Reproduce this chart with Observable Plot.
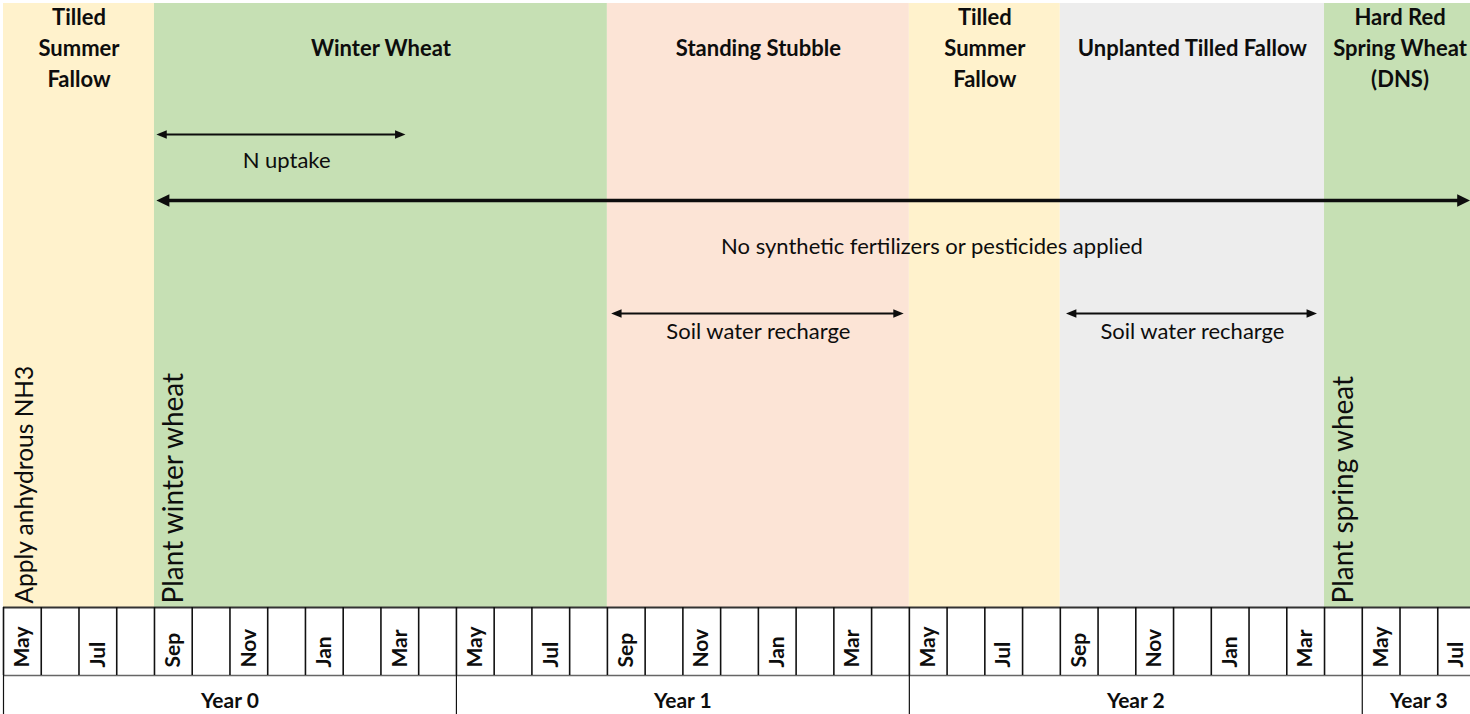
<!DOCTYPE html>
<html><head><meta charset="utf-8">
<script src="https://cdn.jsdelivr.net/npm/d3@7"></script>
<script src="https://cdn.jsdelivr.net/npm/@observablehq/plot@0.6"></script>
<style>
html,body{margin:0;padding:0;background:#fff;overflow:hidden}
#chart svg{overflow:hidden;display:block}
</style>
</head><body><div id="chart"></div>
<script>
// ---------- DATA ----------
const monthNames = ["May","Jun","Jul","Aug","Sep","Oct","Nov","Dec","Jan","Feb","Mar","Apr"];
const labeledMonths = ["May","Jul","Sep","Nov","Jan","Mar"];
const totalMonths = 39;

const years = ["Year 0","Year 1","Year 2","Year 3"];
const yearStart = [0, 12, 24, 36];
const yearEnd = [12, 24, 36, 39];

const phaseNames = ["Tilled\nSummer\nFallow","Winter Wheat","Standing Stubble","Tilled\nSummer\nFallow","Unplanted Tilled Fallow","Hard Red\nSpring Wheat\n(DNS)"];
const phaseStart = [0, 4, 16, 24, 28, 35];
const phaseEnd = [4, 16, 24, 28, 35, 39];
const phaseKind = ["fallow","wheat","stubble","fallow","unplanted","wheat"];

const eventNames = ["Apply anhydrous NH3","Plant winter wheat","Plant spring wheat"];
const eventMonth = [0, 4, 35];
const eventKind = ["fertilize","plant","plant"];

const spanNames = ["N uptake","No synthetic fertilizers or pesticides applied","Soil water recharge","Soil water recharge"];
const spanStart = [4.05, 4.05, 16.1, 28.15];
const spanEnd = [10.65, 38.86, 23.85, 34.8];
const spanLabelAt = [7.5, 24.6, 20.0, 31.5];
const spanTier = ["nutrient","management","water","water"];

// ---------- TABLES ----------
const timeline = d3.range(totalMonths).map(i => ({i, name: monthNames[i % 12]}));
const yearsT = years.map((name, k) => ({name, start: yearStart[k], end: yearEnd[k]}));
const phases = phaseNames.map((name, k) => ({name, start: phaseStart[k], end: phaseEnd[k], kind: phaseKind[k]}));
const events = eventNames.map((name, k) => ({name, month: eventMonth[k], kind: eventKind[k]}));
const spans = spanNames.map((name, k) => ({name, start: spanStart[k], end: spanEnd[k], at: spanLabelAt[k], tier: spanTier[k]}));

// ---------- LAYOUT (pixels, top-down) ----------
const L = {
  bandTop: 3, bandBottom: 607, header: 46, eventBase: 603,
  rowTop: 607, rowMid: 675, bottom: 714, monthBase: 667, yearLabel: 701
};
const tierArrowY = {nutrient: 134, management: 200, water: 313};
const tierLabelY = {nutrient: 160, management: 246, water: 331};
const thin = spans.filter(d => d.tier !== "management");
const thick = spans.filter(d => d.tier === "management");

const FONT = "Lato, 'Open Sans', sans-serif";
const INK = "#0d0d0d";

function head(dir, lenK, halfK) {
  return {draw(ctx, size) {
    const r = Math.sqrt(size / Math.PI);
    ctx.moveTo(0, 0);
    ctx.lineTo(-dir * lenK * r, -halfK * r);
    ctx.lineTo(-dir * lenK * r, halfK * r);
    ctx.closePath();
  }};
}
const headR = head(1, 2, 0.8), headL = head(-1, 2, 0.8);

const chart = Plot.plot({
  width: 1470, height: 714,
  marginTop: 0, marginBottom: 0, marginLeft: 0, marginRight: 0,
  style: {fontFamily: FONT, background: "#fff", color: INK},
  x: {domain: [0, totalMonths], range: [3, 1475], axis: null},
  y: {domain: [0, 714], range: [0, 714], axis: null},
  color: {domain: ["fallow","wheat","stubble","unplanted"], range: ["#FFF2CC","#C6E0B4","#FCE4D6","#EDEDED"]},
  marks: [
    // phase bands
    Plot.rect(phases, {x1: "start", x2: "end", y1: L.bandTop, y2: L.bandBottom, fill: "kind"}),
    // phase headers
    Plot.text(phases, {x: d => (d.start + d.end) / 2, y: L.header, text: "name", lineAnchor: "middle",
      lineHeight: 1.41, fontWeight: "bold", fontSize: 22, fill: INK}),
    // events (vertical)
    Plot.text(events.filter(d => d.kind === "fertilize"), {x: "month", y: L.eventBase, text: "name", rotate: -90,
      textAnchor: "start", lineAnchor: "top", dx: 12, fontSize: 24.5, fill: INK}),
    Plot.text(events.filter(d => d.kind === "plant"), {x: "month", y: L.eventBase, text: "name", rotate: -90,
      textAnchor: "start", lineAnchor: "top", dx: 9, fontSize: 28, fill: INK}),
    // span arrows: shafts
    Plot.ruleY(thin, {y: d => tierArrowY[d.tier], x1: "start", x2: "end", stroke: INK, strokeWidth: 2,
      insetLeft: 8, insetRight: 8}),
    Plot.ruleY(thick, {y: d => tierArrowY[d.tier], x1: "start", x2: "end", stroke: INK, strokeWidth: 3.5,
      insetLeft: 10, insetRight: 10}),
    // heads
    Plot.dot(thin, {x: "start", y: d => tierArrowY[d.tier], symbol: headL, r: 5.2, fill: INK, stroke: "none"}),
    Plot.dot(thin, {x: "end", y: d => tierArrowY[d.tier], symbol: headR, r: 5.2, fill: INK, stroke: "none"}),
    Plot.dot(thick, {x: "start", y: d => tierArrowY[d.tier], symbol: head(-1, 2, 0.95), r: 6.5, fill: INK, stroke: "none"}),
    Plot.dot(thick, {x: "end", y: d => tierArrowY[d.tier], symbol: head(1, 2, 0.95), r: 6.5, fill: INK, stroke: "none"}),
    // span labels
    Plot.text(spans, {x: "at", y: d => tierLabelY[d.tier], text: "name", lineAnchor: "middle", fontSize: 22, fill: INK}),
    // month row
    Plot.ruleY([L.rowTop], {x1: 0, x2: totalMonths, stroke: "#333", strokeWidth: 2}),
    Plot.ruleY([L.rowMid], {x1: 0, x2: totalMonths, stroke: "#666", strokeWidth: 1.5}),
    Plot.ruleX(d3.range(totalMonths + 1), {x: d => d, y1: L.rowTop, y2: L.rowMid, stroke: "#111", strokeWidth: 1.6}),
    Plot.text(timeline.filter(d => labeledMonths.includes(d.name)), {x: d => d.i + 0.5, y: L.monthBase, text: "name",
      rotate: -90, textAnchor: "start", lineAnchor: "middle", fontWeight: "bold", fontSize: 21, fill: INK}),
    // year row
    Plot.ruleX(yearsT, {x: "start", y1: L.rowMid, y2: L.bottom, stroke: "#111", strokeWidth: 1.2}),
    Plot.text(yearsT, {x: d => (d.start + d.end) / 2, y: L.yearLabel, text: "name", lineAnchor: "middle",
      fontWeight: "bold", fontSize: 21, fill: INK})
  ]
});
document.getElementById("chart").append(chart);
</script>
</body></html>
